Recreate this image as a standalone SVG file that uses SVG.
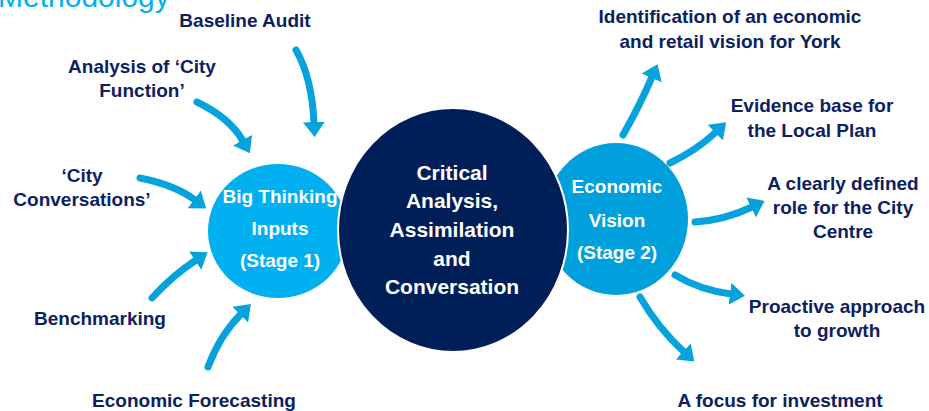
<svg xmlns="http://www.w3.org/2000/svg" width="929" height="411" viewBox="0 0 929 411">
<defs>
<marker id="ah" viewBox="0 0 15 22" refX="1" refY="11" markerWidth="15" markerHeight="22" markerUnits="userSpaceOnUse" orient="auto">
<path d="M0,0 L15,11 L0,22 z" fill="#05A2DC"/>
</marker>
<style>
.lbl{font-family:"Liberation Sans",Arial,sans-serif;font-weight:bold;font-size:19px;fill:#0B2160;text-anchor:middle}
.wt{font-family:"Liberation Sans",Arial,sans-serif;font-weight:bold;font-size:19px;fill:#FFFFFF;text-anchor:middle}
.wtl{font-family:"Liberation Sans",Arial,sans-serif;font-weight:bold;font-size:21px;fill:#FFFFFF;text-anchor:middle}
.arr{fill:none;stroke:#05A2DC;stroke-width:7;stroke-linecap:round;marker-end:url(#ah)}
.title{font-family:"Liberation Sans",Arial,sans-serif;font-size:30px;fill:#00B0F0}
</style>
</defs>
<rect width="929" height="411" fill="#FFFFFF"/>
<text class="title" x="-2" y="7">Methodology</text>

<g id="connectors">
<path class="arr" d="M296,50 Q312,78 314,123"/>
<path class="arr" d="M197,102 Q230,118 243,141"/>
<path class="arr" d="M140,178 Q175,185 195,200"/>
<path class="arr" d="M152,298 Q172,276 196,260"/>
<path class="arr" d="M208,367 Q220,335 241,314"/>
<path class="arr" d="M623,135 Q640,105 652,77"/>
<path class="arr" d="M670,163 Q697,150 716,132"/>
<path class="arr" d="M695,222 Q725,220 752,207"/>
<path class="arr" d="M675,275 Q700,290 731,294"/>
<path class="arr" d="M640,297 Q658,328 684,352"/>
</g>

<g id="stage1">
<ellipse cx="278" cy="231" rx="70" ry="67" fill="#00B0F0"/>
<text class="wt" x="280" y="203">Big Thinking</text>
<text class="wt" x="280" y="235">Inputs</text>
<text class="wt" x="280" y="267">(Stage 1)</text>
</g>

<g id="stage2">
<ellipse cx="616" cy="219" rx="72" ry="76" fill="#00A0DC"/>
<text class="wt" x="617" y="193">Economic</text>
<text class="wt" x="617" y="227">Vision</text>
<text class="wt" x="617" y="259">(Stage 2)</text>
</g>

<g id="critical">
<ellipse cx="453" cy="230" rx="115" ry="122" fill="#001E58" stroke="#FFFFFF" stroke-width="2"/>
<text class="wtl" x="452" y="180">Critical</text>
<text class="wtl" x="452" y="208">Analysis,</text>
<text class="wtl" x="452" y="237">Assimilation</text>
<text class="wtl" x="452" y="266">and</text>
<text class="wtl" x="452" y="294">Conversation</text>
</g>

<g id="baseline-audit"><text class="lbl" x="245" y="27">Baseline Audit</text></g>
<g id="city-function"><text class="lbl" x="142" y="73">Analysis of ‘City</text><text class="lbl" x="142" y="97">Function’</text></g>
<g id="city-conversations"><text class="lbl" x="82" y="182">‘City</text><text class="lbl" x="82" y="206">Conversations’</text></g>
<g id="benchmarking"><text class="lbl" x="100" y="325">Benchmarking</text></g>
<g id="forecasting"><text class="lbl" x="194" y="407">Economic Forecasting</text></g>

<g id="vision-york"><text class="lbl" x="730" y="23">Identification of an economic</text><text class="lbl" x="730" y="48">and retail vision for York</text></g>
<g id="evidence"><text class="lbl" x="812" y="112">Evidence base for</text><text class="lbl" x="812" y="137">the Local Plan</text></g>
<g id="city-centre"><text class="lbl" x="843" y="190">A clearly defined</text><text class="lbl" x="843" y="214">role for the City</text><text class="lbl" x="843" y="238">Centre</text></g>
<g id="growth"><text class="lbl" x="837" y="313">Proactive approach</text><text class="lbl" x="837" y="337">to growth</text></g>
<g id="investment"><text class="lbl" x="780" y="407">A focus for investment</text></g>
</svg>
